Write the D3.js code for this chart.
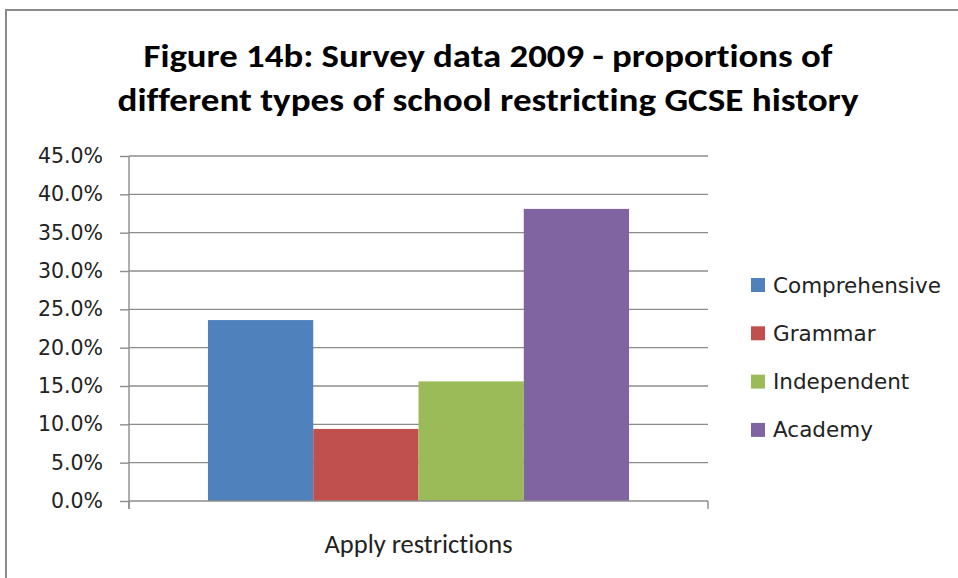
<!DOCTYPE html>
<html>
<head>
<meta charset="utf-8">
<script src="https://cdn.jsdelivr.net/npm/d3@7"></script>
<style>
  html, body { margin: 0; padding: 0; background: #fff; }
  svg { display: block; }
  text { font-variant-ligatures: none; }
</style>
</head>
<body>
<svg id="chart" width="958" height="578"></svg>
<script>
// Survey data 2009: share of each school type applying restrictions to GCSE history
const categories = ["Apply restrictions"];
const seriesNames = ["Comprehensive", "Grammar", "Independent", "Academy"];
const seriesValues = [0.236, 0.094, 0.156, 0.381];
const seriesColors = ["#4F81BD", "#C0504D", "#9BBB59", "#8064A2"];
const yTicks = [0, 0.05, 0.10, 0.15, 0.20, 0.25, 0.30, 0.35, 0.40, 0.45];
const titleLines = [
  "Figure 14b: Survey data 2009 - proportions of",
  "different types of school restricting GCSE history"
];

const svg = d3.select("#chart");
const plot = { left: 129, right: 708, top: 156, bottom: 501 };

// chart frame
svg.append("rect")
  .attr("x", 6).attr("y", 10)
  .attr("width", 1000).attr("height", 700)
  .attr("fill", "#fff")
  .attr("stroke", "#8a8a8a").attr("stroke-width", 2);

// title: two centred lines, each fitted to its own run length
const titleFont = "Carlito, Lato, 'Liberation Sans', sans-serif";
const titleWidths = [689, 741];
svg.append("g").selectAll("text")
  .data(titleLines)
  .join("text")
  .attr("x", 488)
  .attr("y", (d, i) => 67 + i * 44)
  .attr("text-anchor", "middle")
  .attr("font-family", titleFont)
  .attr("font-weight", "bold")
  .attr("font-size", 31.5)
  .attr("textLength", (d, i) => titleWidths[i])
  .attr("lengthAdjust", "spacingAndGlyphs")
  .attr("fill", "#000")
  .text(d => d);

// scales
const y = d3.scaleLinear().domain([0, 0.45]).range([plot.bottom, plot.top]);
const x0 = d3.scaleBand().domain(categories).range([plot.left, plot.right]).padding(0);
const x1 = d3.scaleBand().domain(seriesNames)
  .range([0, x0.bandwidth()])
  .paddingInner(0).paddingOuter(0.75);

// horizontal gridlines
svg.append("g").selectAll("line")
  .data(yTicks.filter(t => t > 0))
  .join("line")
  .attr("x1", plot.left).attr("x2", plot.right)
  .attr("y1", d => y(d)).attr("y2", d => y(d))
  .attr("stroke", "#8c8c8c").attr("stroke-width", 1.4);

// y axis
const yAxis = d3.axisLeft(y)
  .tickValues(yTicks)
  .tickFormat(d3.format(".1%"))
  .tickSize(9)
  .tickPadding(17);
const gy = svg.append("g").attr("transform", `translate(${plot.left},0)`).call(yAxis);
gy.select(".domain").remove();
gy.selectAll(".tick line").attr("stroke", "#8c8c8c").attr("stroke-width", 1.4);
gy.selectAll(".tick text")
  .attr("font-family", "'DejaVu Sans', sans-serif")
  .attr("font-size", 20.5)
  .attr("fill", "#222");
svg.append("line")
  .attr("x1", plot.left).attr("x2", plot.left)
  .attr("y1", plot.top).attr("y2", plot.bottom + 8)
  .attr("stroke", "#8c8c8c").attr("stroke-width", 1.4);

// bars
const group = svg.append("g").selectAll("g")
  .data(categories)
  .join("g")
  .attr("transform", d => `translate(${x0(d)},0)`);
group.selectAll("rect")
  .data(seriesNames.map((name, i) => ({ name, value: seriesValues[i], color: seriesColors[i] })))
  .join("rect")
  .attr("x", d => x1(d.name))
  .attr("width", x1.bandwidth())
  .attr("y", d => y(d.value))
  .attr("height", d => y(0) - y(d.value))
  .attr("fill", d => d.color);

// x axis with tick marks at category boundaries
svg.append("line")
  .attr("x1", plot.left).attr("x2", plot.right)
  .attr("y1", plot.bottom).attr("y2", plot.bottom)
  .attr("stroke", "#8c8c8c").attr("stroke-width", 1.4);
const boundaries = [x0.range()[0], x0.range()[1]];
svg.append("g").selectAll("line")
  .data(boundaries)
  .join("line")
  .attr("x1", d => d).attr("x2", d => d)
  .attr("y1", plot.bottom).attr("y2", plot.bottom + 8)
  .attr("stroke", "#8c8c8c").attr("stroke-width", 1.4);
svg.append("g").selectAll("text")
  .data(categories)
  .join("text")
  .attr("x", d => x0(d) + x0.bandwidth() / 2)
  .attr("y", 553)
  .attr("text-anchor", "middle")
  .attr("font-family", titleFont)
  .attr("font-size", 26.5)
  .attr("fill", "#222")
  .text(d => d);

// legend
const legend = svg.append("g").selectAll("g")
  .data(seriesNames)
  .join("g")
  .attr("transform", (d, i) => `translate(751,${285 + i * 48.3})`);
legend.append("rect")
  .attr("x", 0).attr("y", -7)
  .attr("width", 14).attr("height", 14)
  .attr("fill", (d, i) => seriesColors[i]);
legend.append("text")
  .attr("x", 22).attr("y", 0)
  .attr("dy", "0.35em")
  .attr("font-family", "'DejaVu Sans', sans-serif")
  .attr("font-size", 21.5)
  .attr("fill", "#222")
  .text(d => d);
</script>
</body>
</html>
